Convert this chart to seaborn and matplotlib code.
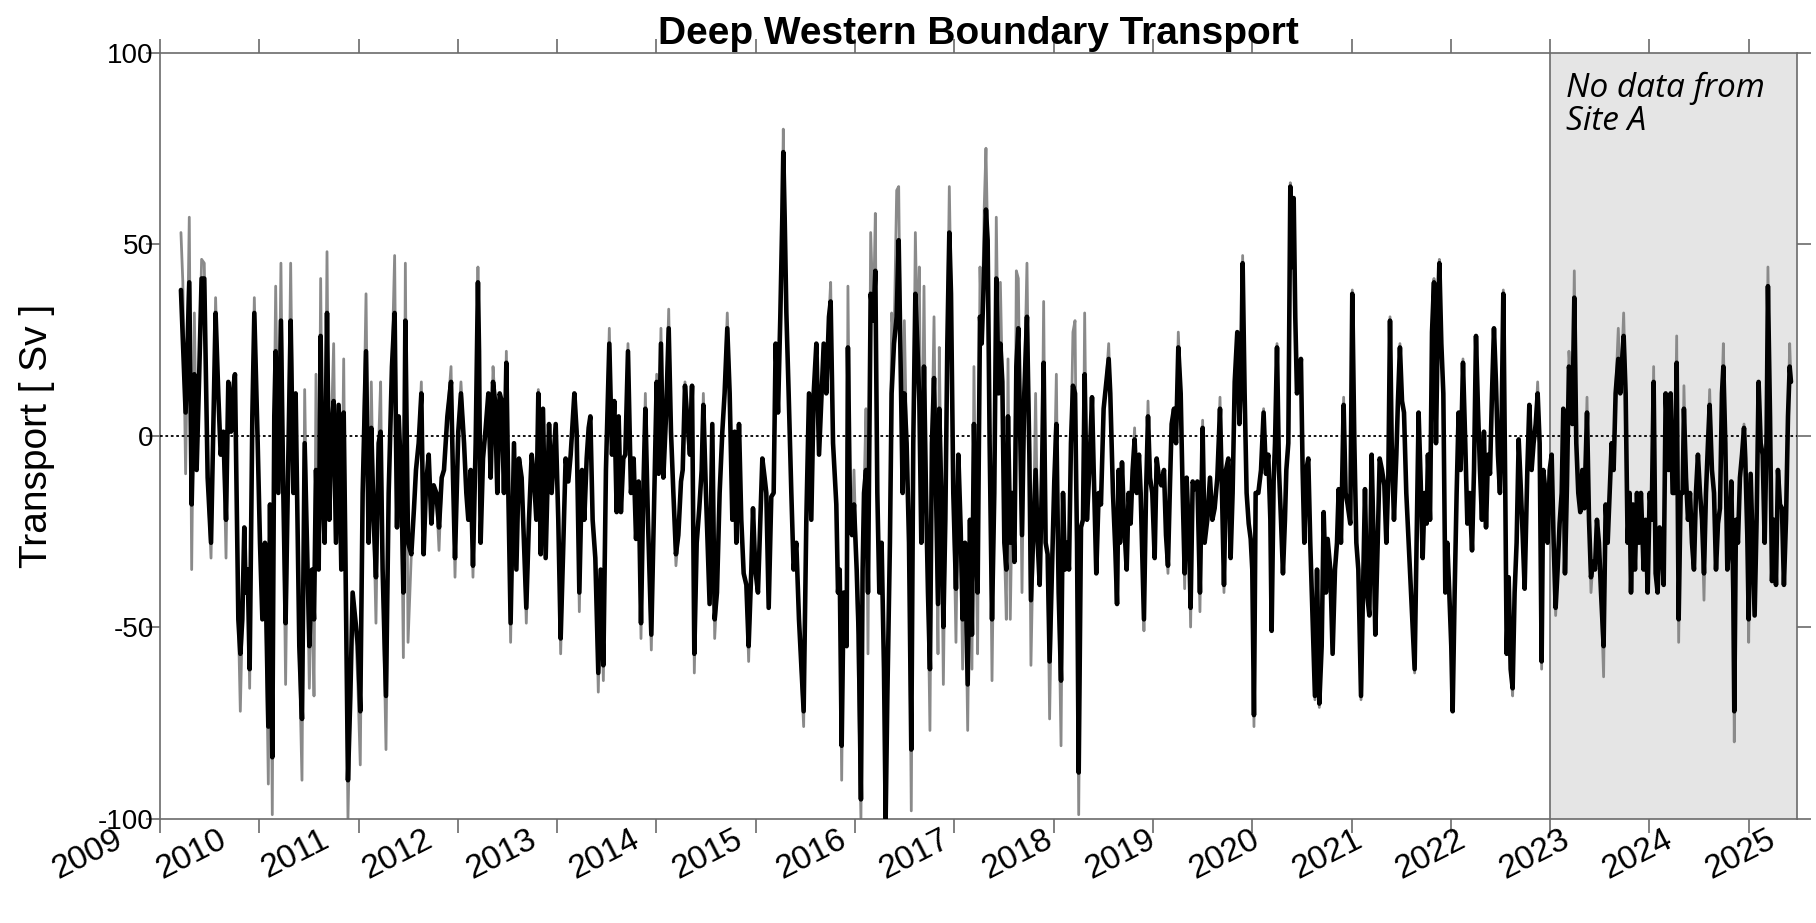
import matplotlib
matplotlib.use("Agg")
import matplotlib.pyplot as plt
import matplotlib.transforms as mtransforms
import pandas as pd
import seaborn as sns

# Decimal-year sample times of the transport record
year = [
    2009.211, 2009.230, 2009.258, 2009.295, 2009.319, 2009.346, 2009.369, 2009.393, 2009.419, 2009.446,
    2009.480, 2009.514, 2009.560, 2009.587, 2009.611, 2009.638, 2009.665, 2009.688, 2009.715, 2009.732,
    2009.755, 2009.772, 2009.789, 2009.809, 2009.829, 2009.849, 2009.863, 2009.883, 2009.903, 2009.930,
    2009.950, 2009.984, 2010.007, 2010.031, 2010.057, 2010.091, 2010.108, 2010.131, 2010.151, 2010.165,
    2010.192, 2010.218, 2010.242, 2010.265, 2010.292, 2010.316, 2010.343, 2010.366,
    2010.403, 2010.430, 2010.457, 2010.480, 2010.504, 2010.531, 2010.551, 2010.571, 2010.598, 2010.618,
    2010.638, 2010.658, 2010.682, 2010.705, 2010.725, 2010.749, 2010.772, 2010.799, 2010.826, 2010.850,
    2010.866, 2010.893, 2010.917, 2010.940, 2010.967, 2010.994, 2011.017, 2011.041, 2011.075, 2011.101,
    2011.128, 2011.152, 2011.175, 2011.202, 2011.222, 2011.242, 2011.276, 2011.303, 2011.336, 2011.363,
    2011.387, 2011.404, 2011.430, 2011.451, 2011.471, 2011.498, 2011.531, 2011.558, 2011.578, 2011.605,
    2011.632, 2011.655, 2011.679, 2011.706, 2011.733, 2011.756,
    2011.783, 2011.810, 2011.837, 2011.860, 2011.894, 2011.931, 2011.951, 2011.971, 2012.004, 2012.031,
    2012.062, 2012.085, 2012.105, 2012.129, 2012.152, 2012.179, 2012.202, 2012.213, 2012.229, 2012.253,
    2012.280, 2012.307, 2012.330, 2012.354, 2012.374, 2012.397, 2012.421, 2012.441, 2012.464, 2012.488,
    2012.508, 2012.531, 2012.565, 2012.589, 2012.615, 2012.642, 2012.666, 2012.689, 2012.716, 2012.743,
    2012.766, 2012.790, 2012.810, 2012.834, 2012.857, 2012.884, 2012.918, 2012.944, 2012.985, 2013.011,
    2013.035, 2013.059, 2013.085, 2013.112, 2013.136,
    2013.173, 2013.196, 2013.223, 2013.250, 2013.273, 2013.297, 2013.317, 2013.334, 2013.357, 2013.384,
    2013.414, 2013.438, 2013.465, 2013.491, 2013.525, 2013.552, 2013.575, 2013.599, 2013.619, 2013.642,
    2013.666, 2013.686, 2013.713, 2013.743, 2013.770, 2013.794, 2013.820, 2013.844, 2013.867, 2013.888,
    2013.914, 2013.948, 2013.978, 2014.002, 2014.022, 2014.045, 2014.069, 2014.096, 2014.123, 2014.146,
    2014.170, 2014.196, 2014.220, 2014.247, 2014.264, 2014.287, 2014.314, 2014.337, 2014.358, 2014.381,
    2014.405, 2014.431, 2014.455, 2014.472, 2014.498,
    2014.535, 2014.562, 2014.586, 2014.609, 2014.636, 2014.663, 2014.686, 2014.713, 2014.737, 2014.764,
    2014.787, 2014.804, 2014.831, 2014.854, 2014.878, 2014.905, 2014.928, 2014.955, 2014.972, 2014.995,
    2015.022, 2015.046, 2015.066, 2015.089, 2015.106, 2015.130, 2015.156, 2015.180, 2015.200, 2015.224,
    2015.247, 2015.267, 2015.277, 2015.291, 2015.308, 2015.331, 2015.358, 2015.381, 2015.408, 2015.435,
    2015.482, 2015.509, 2015.536, 2015.559, 2015.583, 2015.610, 2015.637, 2015.660, 2015.684, 2015.710,
    2015.737, 2015.754, 2015.778, 2015.811, 2015.828, 2015.845, 2015.865, 2015.885,
    2015.915, 2015.928, 2015.949, 2015.969, 2015.989, 2016.016, 2016.036, 2016.059, 2016.076, 2016.090,
    2016.110, 2016.130, 2016.157, 2016.184, 2016.204, 2016.224, 2016.244, 2016.267, 2016.291, 2016.308,
    2016.325, 2016.351, 2016.368, 2016.392, 2016.419, 2016.439, 2016.459, 2016.479, 2016.496, 2016.519,
    2016.543, 2016.566, 2016.586, 2016.607, 2016.627, 2016.647, 2016.667, 2016.694, 2016.714, 2016.734,
    2016.754, 2016.774, 2016.795, 2016.815, 2016.835, 2016.848, 2016.868, 2016.889, 2016.909, 2016.929,
    2016.949, 2016.966, 2016.989, 2017.016, 2017.040, 2017.063, 2017.083, 2017.107, 2017.134, 2017.157,
    2017.177, 2017.197, 2017.218, 2017.234, 2017.258, 2017.275,
    2017.301, 2017.318, 2017.335, 2017.355, 2017.379, 2017.402, 2017.422, 2017.446, 2017.463, 2017.483,
    2017.503, 2017.523, 2017.540, 2017.563, 2017.583, 2017.604, 2017.624, 2017.644, 2017.664, 2017.681,
    2017.704, 2017.731, 2017.755, 2017.771, 2017.798, 2017.818, 2017.839, 2017.859, 2017.882, 2017.899,
    2017.919, 2017.939, 2017.959, 2017.983, 2018.006, 2018.027, 2018.050, 2018.074, 2018.094, 2018.114,
    2018.134, 2018.154, 2018.174, 2018.194, 2018.215, 2018.235, 2018.252, 2018.275, 2018.295, 2018.312,
    2018.335, 2018.359, 2018.386, 2018.403, 2018.429, 2018.453, 2018.476, 2018.503, 2018.530, 2018.554,
    2018.570, 2018.597, 2018.621, 2018.638, 2018.654,
    2018.668, 2018.688, 2018.708, 2018.735, 2018.755, 2018.775, 2018.795, 2018.815, 2018.836, 2018.859,
    2018.876, 2018.896, 2018.909, 2018.930, 2018.950, 2018.970, 2018.993, 2019.017, 2019.037, 2019.060,
    2019.084, 2019.111, 2019.131, 2019.151, 2019.171, 2019.188, 2019.212, 2019.232, 2019.255, 2019.279,
    2019.299, 2019.319, 2019.339, 2019.363, 2019.379, 2019.400, 2019.420, 2019.447, 2019.473, 2019.500,
    2019.520, 2019.547, 2019.574, 2019.598, 2019.621, 2019.648, 2019.675, 2019.695, 2019.715, 2019.735,
    2019.759, 2019.782, 2019.802, 2019.823, 2019.849, 2019.870, 2019.890, 2019.903, 2019.923, 2019.943,
    2019.964, 2019.984, 2020.000, 2020.017, 2020.034,
    2020.061, 2020.088, 2020.114, 2020.138, 2020.161, 2020.182, 2020.195, 2020.215, 2020.229, 2020.249,
    2020.269, 2020.289, 2020.309, 2020.329, 2020.343, 2020.363, 2020.383, 2020.403, 2020.417, 2020.433,
    2020.450, 2020.474, 2020.490, 2020.507, 2020.524, 2020.544, 2020.564, 2020.584, 2020.608, 2020.631,
    2020.652, 2020.675, 2020.699, 2020.719, 2020.742, 2020.759, 2020.786, 2020.809, 2020.833, 2020.853,
    2020.870, 2020.893, 2020.920, 2020.940, 2020.960, 2020.987, 2021.007, 2021.028, 2021.048, 2021.068,
    2021.095, 2021.115, 2021.135, 2021.155, 2021.179, 2021.202, 2021.222, 2021.239, 2021.263, 2021.283,
    2021.306, 2021.330, 2021.350, 2021.370, 2021.387, 2021.404,
    2021.427, 2021.451, 2021.467, 2021.487, 2021.508, 2021.528, 2021.551, 2021.575, 2021.595, 2021.618,
    2021.635, 2021.655, 2021.675, 2021.696, 2021.716, 2021.736, 2021.756, 2021.769, 2021.790, 2021.810,
    2021.830, 2021.850, 2021.870, 2021.884, 2021.904, 2021.924, 2021.944, 2021.964, 2021.984, 2022.004,
    2022.018, 2022.038, 2022.058, 2022.078, 2022.098, 2022.122, 2022.145, 2022.166, 2022.189, 2022.213,
    2022.233, 2022.253, 2022.273, 2022.293, 2022.313, 2022.333, 2022.354, 2022.374, 2022.394, 2022.414,
    2022.434, 2022.454, 2022.474, 2022.494, 2022.508, 2022.528, 2022.548, 2022.562, 2022.582, 2022.602,
    2022.622, 2022.642, 2022.662, 2022.683, 2022.703, 2022.723, 2022.743, 2022.770, 2022.790,
    2022.813, 2022.833, 2022.854, 2022.874, 2022.894, 2022.914, 2022.931, 2022.954, 2022.974, 2022.995,
    2023.015, 2023.035, 2023.055, 2023.075, 2023.095, 2023.116, 2023.132, 2023.149, 2023.169, 2023.189,
    2023.209, 2023.223, 2023.243, 2023.263, 2023.283, 2023.303, 2023.324, 2023.344, 2023.371, 2023.391,
    2023.411, 2023.431, 2023.451, 2023.471, 2023.491, 2023.512, 2023.538, 2023.559, 2023.579, 2023.599,
    2023.619, 2023.639, 2023.659, 2023.686, 2023.706, 2023.720, 2023.740, 2023.760, 2023.780, 2023.800,
    2023.814, 2023.834, 2023.854, 2023.874, 2023.894, 2023.914, 2023.941, 2023.961, 2023.982, 2024.002,
    2024.022, 2024.042, 2024.062, 2024.082, 2024.102, 2024.123, 2024.143, 2024.163,
    2024.193, 2024.213, 2024.233, 2024.253, 2024.274, 2024.294, 2024.314, 2024.334, 2024.347, 2024.368,
    2024.388, 2024.408, 2024.428, 2024.448, 2024.468, 2024.488, 2024.509, 2024.529, 2024.549, 2024.569,
    2024.589, 2024.606, 2024.629, 2024.650, 2024.670, 2024.690, 2024.710, 2024.730, 2024.744, 2024.764,
    2024.784, 2024.804, 2024.824, 2024.844, 2024.854, 2024.871, 2024.891, 2024.911, 2024.932, 2024.952,
    2024.965, 2024.985, 2024.999, 2025.019, 2025.039, 2025.059, 2025.079, 2025.099, 2025.120, 2025.140,
    2025.160, 2025.180, 2025.193, 2025.214, 2025.234, 2025.254, 2025.274, 2025.294, 2025.314, 2025.334,
    2025.354, 2025.375, 2025.395, 2025.412, 2025.425,
]

# Low-passed transport [Sv] (black trace)
transport = [
    38, 25, 6, 40, -18, 16, -9, 14, 41, 41,
    -11, -28, 32, 11, -5, 1, -22, 14, 1, 11,
    16, -15, -48, -57, -48, -24, -41, -35, -61, 5,
    32, -2, -28, -48, -28, -76, -18, -84, 5, 22,
    -15, 30, -15, -49, -6, 30, -15, 11,
    -55, -74, -2, -28, -55, -35, -48, -9, -35, 26,
    -15, -28, 32, -22, 1, 9, -28, 8, -35, 6,
    -28, -90, -68, -41, -48, -55, -72, -15, 22, -28,
    2, -22, -37, -2, 1, -35, -68, -15, 18, 32,
    -24, 5, -12, -41, 30, -28, -31, -19, -9, -2,
    11, -31, -13, -5, -23, -13,
    -15, -24, -11, -9, 5, 14, -11, -32, 1, 11,
    -2, -15, -22, -9, -34, -2, 40, 22, -28, -6,
    2, 11, -11, 14, 9, -15, 11, 9, -15, 19,
    -15, -49, -2, -35, -6, -11, -28, -45, -22, -5,
    -11, -22, 11, -31, 7, -32, 3, -15, 3, -22,
    -53, -31, -6, -12, -5,
    11, 1, -41, -9, -22, -6, 2, 5, -22, -32,
    -62, -35, -60, -9, 24, -5, 9, -20, 5, -20,
    -6, -5, 22, -15, -6, -27, -12, -49, -15, 7,
    -22, -52, -15, 14, -10, 24, -11, 5, 28, 1,
    -15, -31, -26, -12, -9, 13, 3, -5, 13, -57,
    -28, -19, -9, 8, -15,
    -44, 3, -48, -41, -15, 1, 11, 28, 11, -22,
    1, -28, 3, -22, -36, -39, -55, -35, -19, -35,
    -41, -22, -6, -11, -15, -45, -16, -15, 24, 6,
    31, 57, 74, 57, 32, 11, -15, -35, -28, -48,
    -72, -22, 11, -22, 11, 24, -5, 9, 24, 11,
    31, 35, -2, -18, -41, -35, -81, -41,
    -55, 23, -20, -26, -18, -35, -52, -95, -35, -15,
    -9, -41, 37, 30, 43, -15, -41, -28, -61, -100,
    -68, -28, 11, 24, 31, 51, 18, -15, 11, -2,
    -28, -82, -2, 37, 24, 9, -28, 18, -15, -41,
    -61, -2, 15, -15, -44, 7, -15, -50, -22, 24,
    53, 37, -15, -40, -5, -24, -48, -28, -65, -22,
    -52, 3, -28, -41, 31, 24,
    44, 59, 51, -2, -48, -15, 41, 11, 24, 14,
    -28, -35, 5, -28, -15, -33, 18, 28, -2, -26,
    11, 31, -5, -43, -23, -9, -28, -39, -11, 19,
    -28, -31, -59, -35, -12, 3, -41, -64, -15, -35,
    -28, -35, -2, 13, 11, -28, -88, -24, -22, 16,
    -22, -9, 10, -9, -36, -15, -18, 7, 14, 20,
    11, -15, -30, -44, -9,
    -28, -7, -22, -35, -15, -23, -9, -1, -15, -5,
    -15, -35, -48, -15, 5, -11, -15, -32, -6, -11,
    -13, -9, -26, -34, -13, 3, 7, -2, 23, 11,
    -15, -36, -11, -27, -45, -12, -14, -12, -41, 2,
    -28, -22, -11, -22, -19, -11, 7, -15, -39, -9,
    -6, -32, -15, 14, 27, 3, 18, 45, 11, -15,
    -23, -27, -35, -73, -15,
    -15, -9, 6, -10, -5, -22, -51, -12, -2, 23,
    -9, -22, -36, -22, -9, -2, 65, 44, 62, 31,
    11, 14, 20, -9, -28, -9, -6, -28, -48, -68,
    -35, -70, -55, -20, -41, -27, -35, -57, -35, -28,
    -14, -28, 8, -15, -18, -23, 37, -2, -28, -35,
    -68, -41, -14, -41, -47, -5, -28, -52, -28, -6,
    -9, -13, -28, -11, 30, -2,
    -22, -5, 9, 23, 9, 6, -15, -28, -39, -52,
    -61, -28, 6, -12, -32, -15, -23, -5, -22, 27,
    40, -2, 31, 45, 24, 11, -41, -28, -41, -55,
    -72, -41, -15, 6, -9, 19, -2, -23, -15, -30,
    -9, 26, 7, -9, -22, 1, -24, -5, -10, 11,
    28, 14, -5, -15, -2, 37, -15, -57, -37, -61,
    -66, -41, -28, -1, -13, -26, -40, -9, 8,
    -9, -2, 3, 11, -2, -59, -9, -15, -28, -9,
    -5, -28, -45, -35, -23, -15, 7, -36, -13, 18,
    14, 3, 36, -2, -15, -20, -9, -19, 6, -22,
    -37, -33, -35, -22, -28, -41, -55, -18, -28, -15,
    -2, -9, 11, 20, 11, 18, 26, 11, -28, -15,
    -41, -18, -35, -15, -28, -15, -35, -22, -41, -15,
    -22, 14, -36, -41, -24, -28, -39, 11,
    -9, 11, -15, -15, 19, -48, -15, -15, 7, -11,
    -22, -15, -28, -35, -15, -5, -15, -22, -36, -15,
    -2, 8, -9, -15, -35, -23, -19, 11, 18, -2,
    -35, -28, -12, -41, -72, -22, -28, -11, -5, 2,
    -6, -26, -48, -10, -28, -47, -22, 14, -2, -5,
    -28, 1, 39, 5, -38, -22, -39, -9, -18, -19,
    -39, -22, 5, 18, 14,
]

# Unfiltered transport [Sv] (grey trace, reaching past the black one at the spikes)
transport_raw = [
    53, 40, -10, 57, -35, 32, -9, 14, 46, 45,
    -11, -32, 36, 11, -5, 1, -32, 14, 1, 11,
    16, -15, -48, -72, -48, -24, -41, -35, -66, 5,
    36, -2, -28, -48, -28, -91, -18, -99, 5, 39,
    -15, 45, -15, -65, -6, 45, -15, 11,
    -58, -90, 12, -28, -66, -35, -68, 16, -35, 41,
    -15, -28, 48, -22, 1, 24, -28, 8, -35, 20,
    -28, -100, -68, -41, -48, -66, -86, -15, 37, -28,
    14, -22, -49, -2, 14, -35, -82, -15, 18, 47,
    -24, 5, -12, -58, 45, -54, -31, -19, -9, -2,
    14, -31, -13, -5, -23, -13,
    -15, -30, -11, -9, 5, 18, -11, -37, 1, 14,
    -2, -15, -22, -9, -37, -2, 44, 22, -28, -6,
    2, 11, -11, 18, 9, -15, 11, 9, -15, 22,
    -15, -54, -2, -35, -6, -11, -28, -49, -22, -5,
    -11, -22, 12, -31, 7, -32, 3, -15, 3, -22,
    -57, -31, -6, -12, -5,
    11, 1, -46, -9, -22, -6, 2, 5, -22, -32,
    -67, -35, -64, -9, 28, -5, 9, -20, 5, -20,
    -6, -5, 24, -15, -6, -27, -12, -53, -15, 11,
    -22, -56, -15, 16, -10, 28, -11, 5, 33, 1,
    -15, -34, -26, -12, -9, 14, 3, -5, 13, -62,
    -28, -19, -9, 11, -15,
    -44, 3, -53, -41, -15, 1, 11, 32, 11, -22,
    1, -28, 3, -22, -36, -39, -59, -35, -19, -35,
    -41, -22, -6, -11, -15, -45, -16, -15, 24, 6,
    31, 57, 80, 57, 32, 11, -15, -35, -28, -48,
    -76, -22, 11, -22, 11, 24, -5, 9, 24, 11,
    31, 40, -2, -18, -41, -35, -90, -41,
    -55, 39, -20, -26, -9, -35, -68, -100, -35, -15,
    7, -57, 53, 30, 58, -15, -41, -28, -61, -100,
    -68, -28, 32, 24, 64, 65, 18, -15, 30, -2,
    -28, -98, -2, 53, 24, 44, -28, 39, -15, -41,
    -77, -2, 31, -15, -57, 23, -15, -65, -22, 24,
    65, 37, -15, -54, -5, -24, -61, -28, -77, -22,
    -61, 18, -28, -57, 44, 24,
    60, 75, 51, -2, -64, -15, 57, 11, 40, 14,
    -28, -48, 20, -48, -15, -33, 43, 41, -2, -41,
    11, 45, -5, -60, -23, 11, -28, -39, -11, 35,
    -28, -31, -74, -35, -12, 16, -41, -81, -15, -35,
    -28, -35, -2, 27, 30, -28, -99, -24, -22, 32,
    -22, -9, 10, -9, -36, -15, -18, 7, 14, 24,
    11, -15, -30, -44, -9,
    -28, -7, -22, -35, -15, -23, -9, 2, -15, -5,
    -15, -35, -51, -15, 9, -11, -15, -32, -6, -11,
    -13, -9, -26, -36, -13, 3, 7, -2, 27, 11,
    -15, -40, -11, -27, -50, -12, -14, -12, -46, 4,
    -28, -22, -11, -22, -19, -11, 10, -15, -41, -9,
    -6, -32, -15, 14, 27, 3, 18, 47, 11, -15,
    -23, -27, -35, -76, -15,
    -15, -9, 7, -10, -5, -22, -51, -12, -2, 24,
    -9, -22, -36, -22, -9, -2, 66, 44, 62, 31,
    11, 14, 20, -9, -28, -9, -6, -28, -48, -69,
    -35, -71, -55, -20, -41, -27, -35, -57, -35, -28,
    -14, -28, 10, -15, -18, -23, 38, -2, -28, -35,
    -69, -41, -14, -41, -47, -5, -28, -52, -28, -6,
    -9, -13, -28, -11, 31, -2,
    -22, -5, 9, 24, 9, 6, -15, -28, -39, -52,
    -62, -28, 6, -12, -32, -15, -23, -5, -22, 27,
    41, -2, 31, 46, 24, 11, -41, -28, -41, -55,
    -72, -41, -15, 6, -9, 20, -2, -23, -15, -30,
    -9, 26, 7, -9, -22, 1, -24, -5, -10, 11,
    28, 14, -5, -15, -2, 38, -15, -57, -37, -61,
    -68, -41, -28, -1, -13, -26, -40, -9, 8,
    -9, -2, 3, 14, -2, -61, -9, -15, -28, -9,
    -5, -28, -47, -35, -23, -15, 7, -36, -13, 22,
    14, 3, 43, -2, -15, -20, -9, -19, 10, -22,
    -41, -33, -35, -22, -28, -41, -63, -18, -28, -15,
    -2, -9, 11, 28, 11, 18, 32, 11, -28, -15,
    -41, -18, -35, -15, -28, -15, -35, -22, -41, -15,
    -22, 18, -36, -41, -24, -28, -39, 11,
    -9, 11, -15, -15, 26, -54, -15, -15, 13, -11,
    -22, -15, -28, -35, -15, -5, -15, -22, -43, -15,
    -2, 12, -9, -15, -35, -23, -19, 11, 24, -2,
    -35, -28, -12, -41, -80, -22, -28, -11, -5, 3,
    -6, -26, -54, -10, -28, -47, -22, 14, -2, -5,
    -28, 1, 44, 5, -38, -22, -39, -9, -18, -19,
    -39, -22, 5, 24, 14,
]

x_ticks = list(range(2009, 2026))
x_tick_labels = [str(y) for y in x_ticks]
y_ticks = [-100, -50, 0, 50, 100]
x_limits = (2009.0, 2025.485)
y_limits = (-100, 100)
site_a_gap_start = 2023.0

df = pd.DataFrame({"year": year, "transport": transport, "raw": transport_raw})

sns.set_style("ticks")
plt.rcParams["font.family"] = ["Liberation Sans", "DejaVu Sans"]
plt.rcParams["text.color"] = "black"
axis_grey = "#6b6b6b"

fig = plt.figure(figsize=(18.16, 9.23), dpi=100)
ax = fig.add_axes([0.0881, 0.1132, 0.9014, 0.8299])

# Period without Site A mooring data
ax.axvspan(site_a_gap_start, x_limits[1], facecolor="#e5e5e5", edgecolor="none", zorder=0)
ax.axvline(site_a_gap_start, color=axis_grey, lw=1.2, zorder=1)

sns.lineplot(data=df, x="year", y="raw", color="#8a8a8a", linewidth=2.0,
             estimator=None, ax=ax, zorder=2)
sns.lineplot(data=df, x="year", y="transport", color="black", linewidth=3.3,
             estimator=None, ax=ax, zorder=3)
ax.axhline(0, color="black", lw=1.3, ls=(0, (1.5, 1.5)), zorder=4)

ax.set_xlim(*x_limits)
ax.set_ylim(*y_limits)
ax.set_xticks(x_ticks)
ax.set_xticklabels(x_tick_labels, rotation=27, ha="right", va="top",
                   rotation_mode="anchor", fontsize=24)
ax.set_yticks(y_ticks)
ax.set_yticklabels([str(v) for v in y_ticks], fontsize=20)
ax.set_xlabel("")
ax.set_ylabel("Transport [ Sv ]", fontsize=28, labelpad=31, color="black")
ax.set_title("Deep Western Boundary Transport", fontsize=28, fontweight="bold",
             pad=6, color="black")

for side in ["left", "right", "top", "bottom"]:
    ax.spines[side].set_visible(True)
    ax.spines[side].set_color(axis_grey)
    ax.spines[side].set_linewidth(1.2)
ax.tick_params(axis="both", direction="out", length=10, width=1.2, color=axis_grey,
               labelcolor="black", top=True, right=True)
ax.tick_params(axis="y", pad=-5.5)
ax.tick_params(axis="x", pad=-6)

# Year labels fan out slightly wider than the tick spacing
for i, lbl in enumerate(ax.get_xticklabels()):
    dx_px = -46 + 4.0 * i
    lbl.set_transform(lbl.get_transform()
                      + mtransforms.ScaledTranslation(dx_px / 100, 0, fig.dpi_scale_trans))

ax.text(2023.16, 95, "No data from\nSite A", fontsize=24, fontstyle="italic",
        family=["Open Sans", "DejaVu Sans"], va="top", ha="left", linespacing=1.02, zorder=5)

fig.savefig("out.png", dpi=100)
